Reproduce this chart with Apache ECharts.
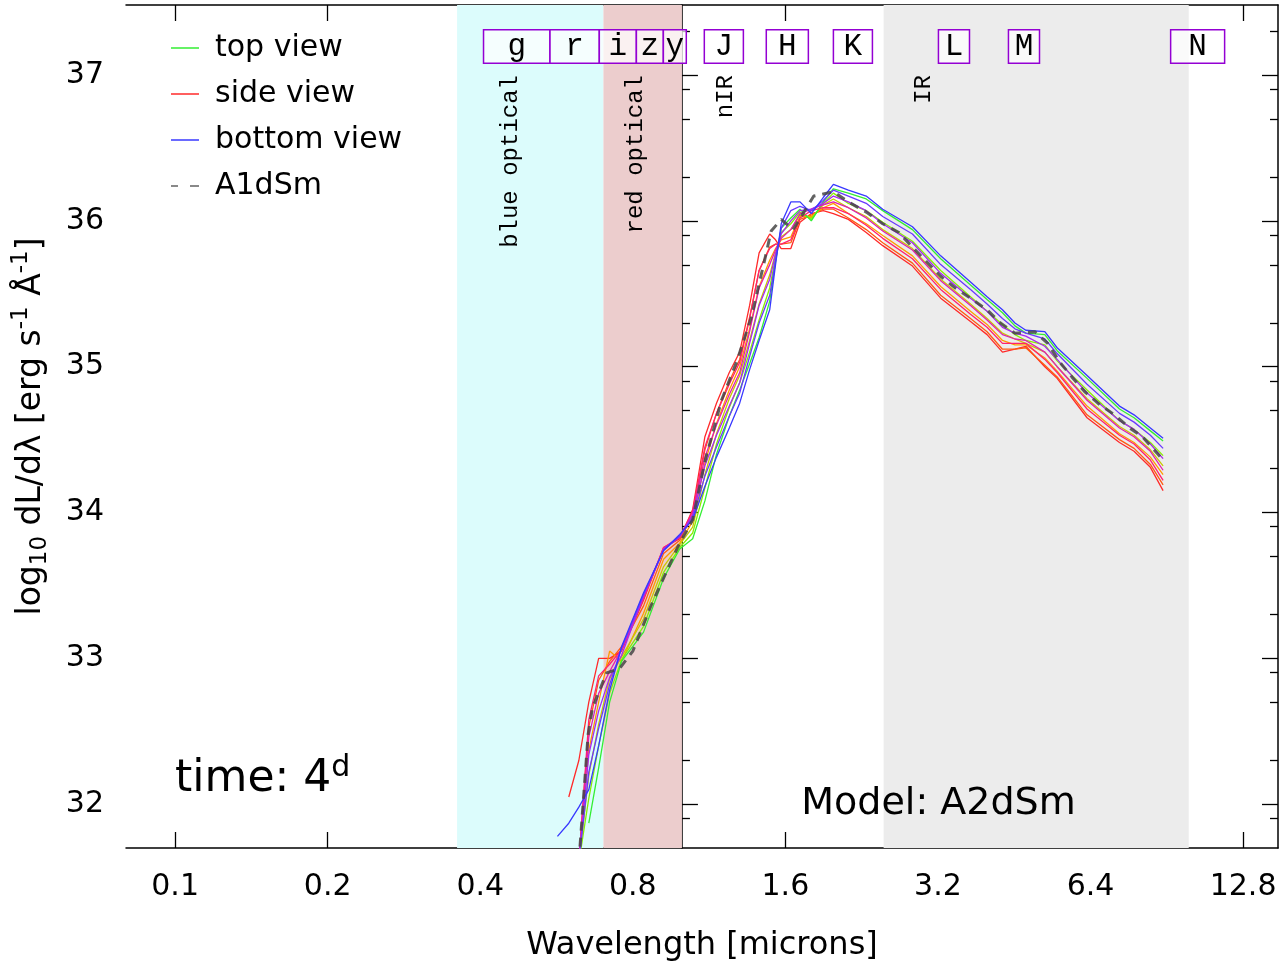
<!DOCTYPE html>
<html><head><meta charset="utf-8">
<script src="https://cdn.jsdelivr.net/npm/echarts@6/dist/echarts.min.js"></script>
<style>html,body{margin:0;padding:0;background:#fff}#c{width:1288px;height:968px}</style>
</head><body><div id="c"></div>
<script>
// ---------- data ----------
const wavelength = [0.568, 0.598, 0.626, 0.655, 0.685, 0.72, 0.76, 0.84, 0.92, 0.99, 1.05, 1.11, 1.17, 1.24, 1.30, 1.36, 1.42, 1.49, 1.53, 1.57, 1.64, 1.71, 1.80, 1.90, 1.99, 2.13, 2.31, 2.49, 2.85, 3.24, 3.71, 4.00, 4.29, 4.54, 4.77, 5.20, 5.50, 6.30, 7.30, 7.80, 8.40, 8.90];

const topView = [null, null, null, 31.87, 32.25, 32.70, 32.98, 33.18, 33.55, 33.75, 33.82, 34.08, 34.40, 34.66, 34.84, 35.02, 35.20, 35.45, 35.72, 35.95, 36.02, 36.08, 36.00, 36.13, 36.22, 36.19, 36.15, 36.07, 35.94, 35.74, 35.56, 35.46, 35.37, 35.28, 35.23, 35.22, 35.11, 34.92, 34.71, 34.65, 34.56, 34.49];
const top1 = [null, null, 31.60, 32.04, 32.40, 32.76, 32.99, 33.22, 33.59, 33.76, 33.86, 34.17, 34.47, 34.72, 34.89, 35.10, 35.32, 35.54, 35.75, 35.92, 35.98, 36.06, 36.01, 36.12, 36.19, 36.12, 36.07, 35.99, 35.86, 35.66, 35.48, 35.38, 35.29, 35.22, 35.18, 35.15, 35.04, 34.84, 34.63, 34.57, 34.48, 34.39];
const top2 = [null, null, 31.60, 32.20, 32.55, 32.86, 33.01, 33.27, 33.63, 33.78, 33.90, 34.26, 34.54, 34.78, 34.94, 35.18, 35.43, 35.63, 35.78, 35.89, 35.94, 36.04, 36.02, 36.11, 36.15, 36.09, 36.03, 35.94, 35.81, 35.60, 35.43, 35.33, 35.23, 35.19, 35.16, 35.10, 35.00, 34.78, 34.59, 34.53, 34.43, 34.32];
const top3 = [null, null, 31.60, 32.37, 32.70, 33.05, 32.98, 33.31, 33.68, 33.79, 33.94, 34.34, 34.61, 34.84, 35.00, 35.26, 35.55, 35.73, 35.81, 35.87, 35.89, 36.03, 36.03, 36.09, 36.12, 36.05, 35.98, 35.90, 35.76, 35.55, 35.38, 35.29, 35.18, 35.15, 35.15, 35.06, 34.97, 34.73, 34.54, 34.48, 34.38, 34.26];
const top4 = [null, null, 31.60, 32.53, 32.85, 32.98, 33.08, 33.36, 33.72, 33.81, 33.98, 34.43, 34.68, 34.90, 35.05, 35.34, 35.66, 35.82, 35.84, 35.84, 35.85, 36.01, 36.04, 36.08, 36.08, 36.02, 35.94, 35.85, 35.71, 35.49, 35.33, 35.24, 35.12, 35.12, 35.13, 35.01, 34.93, 34.67, 34.50, 34.44, 34.33, 34.19];
const sideView = [null, 32.05, 32.30, 32.70, 33.00, 33.00, 33.05, 33.40, 33.76, 33.82, 34.02, 34.52, 34.75, 34.96, 35.10, 35.42, 35.78, 35.91, 35.87, 35.81, 35.81, 35.99, 36.05, 36.07, 36.05, 36.01, 35.92, 35.83, 35.69, 35.47, 35.31, 35.22, 35.10, 35.12, 35.14, 35.00, 34.92, 34.65, 34.48, 34.42, 34.31, 34.15];
const bottom4 = [null, null, 31.60, 32.58, 32.88, 32.96, 33.06, 33.41, 33.76, 33.83, 34.01, 34.45, 34.68, 34.88, 35.03, 35.33, 35.66, 35.81, 35.84, 35.84, 35.87, 36.02, 36.07, 36.09, 36.09, 36.05, 35.97, 35.88, 35.74, 35.53, 35.36, 35.27, 35.16, 35.16, 35.16, 35.05, 34.96, 34.71, 34.53, 34.47, 34.36, 34.22];
const bottom3 = [null, null, 31.60, 32.46, 32.76, 32.91, 33.06, 33.42, 33.75, 33.83, 33.99, 34.38, 34.60, 34.81, 34.96, 35.24, 35.54, 35.70, 35.80, 35.88, 35.94, 36.05, 36.08, 36.11, 36.13, 36.09, 36.02, 35.93, 35.80, 35.59, 35.42, 35.32, 35.22, 35.19, 35.18, 35.10, 35.00, 34.77, 34.58, 34.52, 34.42, 34.29];
const bottom2 = [null, null, 31.60, 32.34, 32.64, 32.87, 33.02, 33.43, 33.75, 33.84, 33.98, 34.32, 34.53, 34.73, 34.89, 35.16, 35.42, 35.60, 35.77, 35.91, 36.00, 36.07, 36.08, 36.12, 36.17, 36.13, 36.07, 35.98, 35.85, 35.64, 35.47, 35.38, 35.27, 35.23, 35.21, 35.14, 35.05, 34.82, 34.63, 34.57, 34.47, 34.37];
const bottom1 = [null, null, 31.60, 32.22, 32.52, 32.82, 33.07, 33.44, 33.74, 33.84, 33.96, 34.25, 34.45, 34.66, 34.82, 35.07, 35.30, 35.49, 35.73, 35.95, 36.07, 36.10, 36.07, 36.14, 36.21, 36.17, 36.12, 36.03, 35.91, 35.70, 35.53, 35.43, 35.33, 35.26, 35.23, 35.19, 35.09, 34.88, 34.68, 34.62, 34.53, 34.44];
const bottomView = [31.78, 31.87, 31.98, 32.10, 32.40, 32.78, 33.08, 33.45, 33.74, 33.85, 33.95, 34.18, 34.38, 34.58, 34.75, 34.98, 35.18, 35.39, 35.70, 35.98, 36.13, 36.13, 36.05, 36.16, 36.25, 36.21, 36.17, 36.08, 35.96, 35.76, 35.58, 35.48, 35.39, 35.30, 35.25, 35.24, 35.13, 34.94, 34.73, 34.67, 34.58, 34.51];

const a1dSmWavelength = [0.626, 0.653, 0.666, 0.71, 0.753, 0.80, 0.866, 0.98, 1.05, 1.11, 1.197, 1.281, 1.371, 1.447, 1.50, 1.57, 1.657, 1.82, 1.99, 2.13, 2.31, 2.49, 2.68, 2.85, 3.24, 3.46, 3.71, 4.00, 4.25, 4.54, 4.97, 5.27, 5.57, 5.88, 6.23, 6.67, 7.14, 7.64, 8.10, 8.75, 8.90];
const a1dSmFlux = [31.60, 32.48, 32.66, 32.90, 32.93, 33.05, 33.35, 33.76, 33.95, 34.35, 34.77, 35.03, 35.34, 35.69, 35.93, 36.01, 35.94, 36.17, 36.20, 36.13, 36.06, 35.98, 35.92, 35.82, 35.62, 35.54, 35.47, 35.39, 35.30, 35.23, 35.24, 35.16, 35.03, 34.93, 34.83, 34.74, 34.67, 34.58, 34.52, 34.39, 34.36];

const bandNames = ['blue optical', 'red optical', 'nIR', 'IR'];
const bandStart = [0.36, 0.70, null, 2.5];
const bandEnd = [0.70, 1.0, null, 10.0];
const bandLabelAt = [0.46, 0.81, 1.22, 3.0];

const filterNames = ['g', 'r', 'i', 'z', 'y', 'J', 'H', 'K', 'L', 'M', 'N'];
const filterStart = [0.406, 0.549, 0.687, 0.813, 0.919, 1.107, 1.467, 1.990, 3.207, 4.408, 9.21];
const filterEnd = [0.549, 0.687, 0.813, 0.919, 1.020, 1.322, 1.776, 2.376, 3.693, 5.076, 11.77];

const xTicks = [0.1, 0.2, 0.4, 0.8, 1.6, 3.2, 6.4, 12.8];
const yTicks = [32, 33, 34, 35, 36, 37];
const yMinorTicks = [31.903, 32.301, 32.699, 32.903, 33.301, 33.699, 33.903, 34.301, 34.699, 34.903, 35.301, 35.699, 35.903, 36.301, 36.699, 36.903, 37.301];

// ---------- chart ----------
const FONT = 'DejaVu Sans';
const MONO = 'Liberation Mono';
const X_MIN = 0.08, X_MAX = 15.0, Y_MIN = 31.7, Y_MAX = 37.48;
const zip = (xs, ys) => xs.map((x, i) => [x, ys[i]]);

const topLines = [
  ['side view', sideView, '#ff2a2a'],
  ['t4', top4, '#ff5a10'],
  ['t3', top3, '#ff9a00'],
  ['t2', top2, '#c8c800'],
  ['t1', top1, '#88ee00'],
  ['top view', topView, '#33ee33']
];
const bottomLines = [
  ['b4', bottom4, '#ff2270'],
  ['b3', bottom3, '#e020b0'],
  ['b2', bottom2, '#a828f0'],
  ['b1', bottom1, '#6a38ff'],
  ['bottom view', bottomView, '#3838ff']
];
const mkLine = ([name, vals, color], z) => ({
  type: 'line', id: 'l_' + name, name, data: zip(wavelength, vals), showSymbol: false, symbol: 'none',
  color, lineStyle: { width: 1.3, color }, itemStyle: { color }, z, silent: true
});

const series = [];
series.push({
  type: 'line', name: 'bands', data: [], z: 0, silent: true,
  markArea: {
    silent: true,
    label: { show: false },
    data: [
      [{ xAxis: bandStart[0], itemStyle: { color: 'rgb(220,252,252)' } }, { xAxis: bandEnd[0] }],
      [{ xAxis: bandStart[1], itemStyle: { color: 'rgb(236,205,205)' } }, { xAxis: bandEnd[1] }],
      [{ xAxis: bandStart[3], itemStyle: { color: 'rgb(236,236,236)' } }, { xAxis: bandEnd[3] }]
    ]
  }
});
topLines.forEach(l => series.push(mkLine(l, 2)));
bottomLines.forEach(l => series.push(mkLine(l, 3)));
series.push({
  type: 'line', name: 'A1dSm', data: zip(a1dSmWavelength, a1dSmFlux), showSymbol: false, symbol: 'none',
  lineStyle: { width: 3, color: 'rgba(70,70,70,0.85)', type: [9, 7] }, itemStyle: { color: 'rgba(70,70,70,0.85)' }, z: 4, silent: true
});
series.push({
  type: 'line', name: 'filters', data: [], z: 5, silent: true,
  markArea: {
    silent: true,
    itemStyle: { color: 'rgba(255,255,255,0.72)', borderColor: '#9400d3', borderWidth: 1.5 },
    label: { show: true, position: 'inside', fontFamily: MONO, fontSize: 31, color: '#000', opacity: 1 },
    data: filterNames.map((n, i) => [{ name: n, xAxis: filterStart[i], yAxis: 37.08 }, { xAxis: filterEnd[i], yAxis: 37.31 }])
  }
});
series.push({
  type: 'scatter', name: 'bandLabels', symbolSize: 0, silent: true, z: 6,
  itemStyle: { color: 'transparent', opacity: 1 },
  label: { show: true, position: 'inside', rotate: 90, align: 'right', verticalAlign: 'middle', opacity: 1,
           fontFamily: MONO, fontSize: 24, color: '#000', formatter: p => p.name },
  data: bandNames.map((n, i) => ({ name: n, value: [bandLabelAt[i], 37.0] }))
});
series.push({
  type: 'scatter', name: 'notes', symbolSize: 0, silent: true, z: 6,
  itemStyle: { color: 'transparent', opacity: 1 },
  label: { show: true, position: 'inside', align: 'left', verticalAlign: 'middle', color: '#000', fontFamily: FONT, opacity: 1,
           formatter: p => p.name,
           rich: {
             a: { fontSize: 44, fontFamily: FONT, lineHeight: 52, color: '#000' },
             s: { fontSize: 30, fontFamily: FONT, lineHeight: 30, verticalAlign: 'top', color: '#000' },
             m: { fontSize: 38, fontFamily: FONT, color: '#000' }
           } },
  data: [
    { name: '{a|time: 4}{s|d}', value: [0.1, 32.17] },
    { name: '{m|Model: A2dSm}', value: [1.72, 32.0] }
  ]
});

const xTickLog = xTicks.map(v => Math.log2(v));
const axisLineStyle = { color: '#000', width: 1.5 };
const tickStyle = { color: '#000', width: 1.3 };

const option = {
  animation: false,
  backgroundColor: '#fff',
  grid: { left: 126, right: 10, top: 5, bottom: 120, containLabel: false },
  legend: {
    orient: 'vertical', left: 166, top: 26, itemWidth: 28, itemHeight: 1.5, itemGap: 12,
    symbolKeepAspect: false,
    data: [
      { name: 'top view', icon: 'rect' },
      { name: 'side view', icon: 'rect' },
      { name: 'bottom view', icon: 'rect' },
      { name: 'A1dSm', icon: 'path://M0,0h7v2h-7z M19,0h9v2h-9z' }
    ],
    textStyle: { fontFamily: FONT, fontSize: 30, color: '#000', lineHeight: 34, padding: [0, 0, 0, 11] },
    selectedMode: false
  },
  xAxis: [
    { type: 'log', logBase: 2, min: X_MIN, max: X_MAX, show: false, splitLine: { show: false } },
    { type: 'value', position: 'bottom', min: Math.log2(X_MIN), max: Math.log2(X_MAX),
      axisLine: { show: true, lineStyle: axisLineStyle },
      axisTick: { show: true, inside: true, length: 16, lineStyle: tickStyle, customValues: xTickLog },
      axisLabel: { show: true, customValues: xTickLog, margin: 24, fontFamily: FONT, fontSize: 30, color: '#000',
                   formatter: v => String(+Math.pow(2, v).toFixed(2)) },
      splitLine: { show: false },
      name: 'Wavelength [microns]', nameLocation: 'middle', nameGap: 82,
      nameTextStyle: { fontFamily: FONT, fontSize: 32, color: '#000' } },
    { type: 'value', position: 'top', min: Math.log2(X_MIN), max: Math.log2(X_MAX),
      axisLine: { show: true, lineStyle: axisLineStyle },
      axisTick: { show: true, inside: true, length: 16, lineStyle: tickStyle, customValues: xTickLog },
      axisLabel: { show: false }, splitLine: { show: false } }
  ],
  yAxis: [
    { type: 'value', position: 'left', min: Y_MIN, max: Y_MAX,
      axisLine: { show: true, lineStyle: axisLineStyle },
      axisTick: { show: true, inside: true, length: 16, lineStyle: tickStyle, customValues: yTicks },
      axisLabel: { show: true, customValues: yTicks, margin: 22, fontFamily: FONT, fontSize: 30, color: '#000' },
      splitLine: { show: false },
      name: '{n|log}{sub|10}{n| dL/dλ [erg s}{sup|-1}{n| Å}{sup|-1}{n|]}',
      nameLocation: 'middle', nameRotate: 90, nameGap: 74,
      nameTextStyle: { fontFamily: FONT, fontSize: 33, color: '#000',
        rich: {
          n: { fontFamily: FONT, fontSize: 33, lineHeight: 42, color: '#000' },
          sub: { fontFamily: FONT, fontSize: 23, lineHeight: 24, verticalAlign: 'bottom', color: '#000' },
          sup: { fontFamily: FONT, fontSize: 23, lineHeight: 24, verticalAlign: 'top', color: '#000' }
        } } },
    { type: 'value', position: 'left', min: Y_MIN, max: Y_MAX,
      axisLine: { show: false },
      axisTick: { show: true, inside: true, length: 8, lineStyle: tickStyle, customValues: yMinorTicks },
      axisLabel: { show: false }, splitLine: { show: false } },
    { type: 'value', position: 'right', min: Y_MIN, max: Y_MAX,
      axisLine: { show: true, lineStyle: axisLineStyle },
      axisTick: { show: true, inside: true, length: 16, lineStyle: tickStyle, customValues: yTicks },
      axisLabel: { show: false }, splitLine: { show: false } },
    { type: 'value', position: 'right', min: Y_MIN, max: Y_MAX,
      axisLine: { show: false },
      axisTick: { show: true, inside: true, length: 8, lineStyle: tickStyle, customValues: yMinorTicks },
      axisLabel: { show: false }, splitLine: { show: false } }
  ],
  series: series.map(s => Object.assign({ xAxisIndex: 0, yAxisIndex: 0 }, s))
};

const chart = echarts.init(document.getElementById('c'), null, { renderer: 'canvas' });
chart.setOption(option);
</script></body></html>
